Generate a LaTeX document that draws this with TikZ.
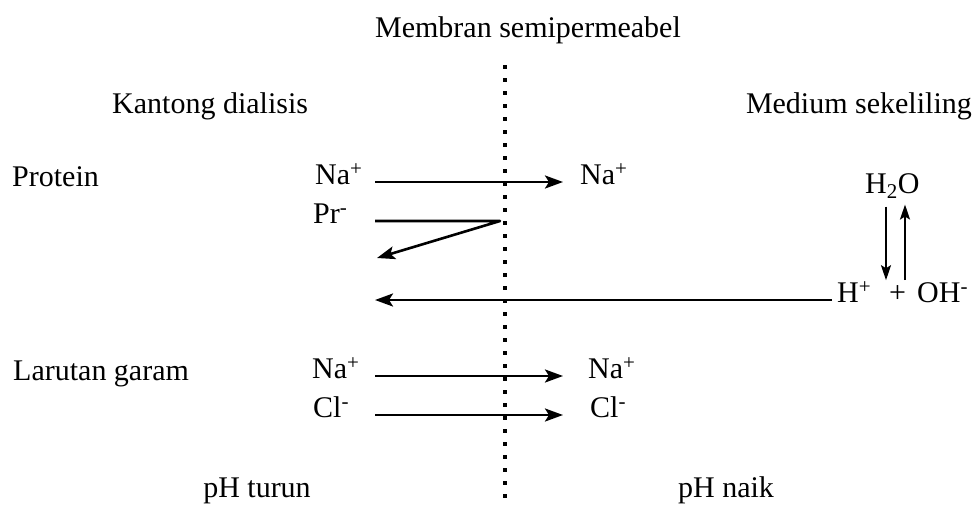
\documentclass[tikz,border=0pt]{standalone}
\usepackage{fontspec}
\setmainfont{Liberation Serif}
\usetikzlibrary{arrows.meta, positioning}

\begin{document}
\begin{tikzpicture}[x=1pt, y=-1pt, font=\fontsize{30}{36}\selectfont,
    txt/.style={anchor=base, inner sep=0pt},
    ion/.style={anchor=mid west, inner sep=0pt},
    flow/.style={line width=2.6pt, -{Stealth[length=18pt, width=13pt, inset=4pt]}},
    eq/.style={line width=2pt, -{Stealth[length=15pt, width=10pt, inset=3pt]}},
    membrane/.style={line width=3.2pt, dash pattern=on 3.5pt off 9.5pt}]
   \useasboundingbox (0,0) rectangle (975,506);

   % judul dan sisi
   \node[txt] (membran) at (528,37) {Membran semipermeabel};
   \node[txt, anchor=base west] (kantong) at (112,113) {Kantong dialisis};
   \node[txt, anchor=base east] (medium) at (972,113) {Medium sekeliling};
   \node[txt, anchor=base west] (protein) at (12,186) {Protein};
   \node[txt, anchor=base west] (garam) at (13,380) {Larutan garam};
   \node[txt] (turun) at (257,497) {pH turun};
   \node[txt] (naik) at (726,497) {pH naik};

   % kolom panah
   \coordinate (colL) at (375,0);
   \coordinate (colR) at (563,0);
   \coordinate (turn) at (500,0);
   \coordinate (prback) at (377,258);
   \coordinate (dn) at (886,0);
   \coordinate (up) at (905,0);
   \coordinate (mtop) at (505,65);
   \coordinate (mbot) at (505,500);

   % ion kantong dialisis
   \node[ion] (naL1) at (315,182) {Na\textsuperscript{+}};
   \node[ion] (prL) at (313,221) {Pr\textsuperscript{-}};
   \node[ion] (naL2) at (312,376) {Na\textsuperscript{+}};
   \node[ion] (clL) at (313,415) {Cl\textsuperscript{-}};

   % ion medium sekeliling
   \node[ion] (naR1) at (580,182) {Na\textsuperscript{+}};
   \node[ion] (naR2) at (588,376) {Na\textsuperscript{+}};
   \node[ion] (clR) at (590,415) {Cl\textsuperscript{-}};
   \node[txt, anchor=base west] (h2o) at (865,193) {H\textsubscript{2}O};
   \node[ion] (hplus) at (837,300) {H\textsuperscript{+}};
   \node[ion] (plus) at (889,300) {+};
   \node[ion] (ohmin) at (917,300) {OH\textsuperscript{-}};

   \draw[membrane] (mtop) -- (mbot);

   \path[flow]
    (naL1.mid -| colL) edge (naR1.mid -| colR)
    (naL2.mid -| colL) edge (naR2.mid -| colR)
    (clL.mid -| colL) edge (clR.mid -| colR)
    ([xshift=-5pt]hplus.mid west) edge (hplus.mid west -| colL);

   \draw[flow, line join=round] (prL.mid -| colL) -- (prL.mid -| turn) -- (prback);

   % kesetimbangan air
   \draw[eq] ([yshift=-8pt]h2o.south -| dn) -- ([yshift=1pt]hplus.north -| dn);
   \draw[eq] ([yshift=1pt]hplus.north -| up) -- ([yshift=-6pt]h2o.south -| up);
\end{tikzpicture}
\end{document}
